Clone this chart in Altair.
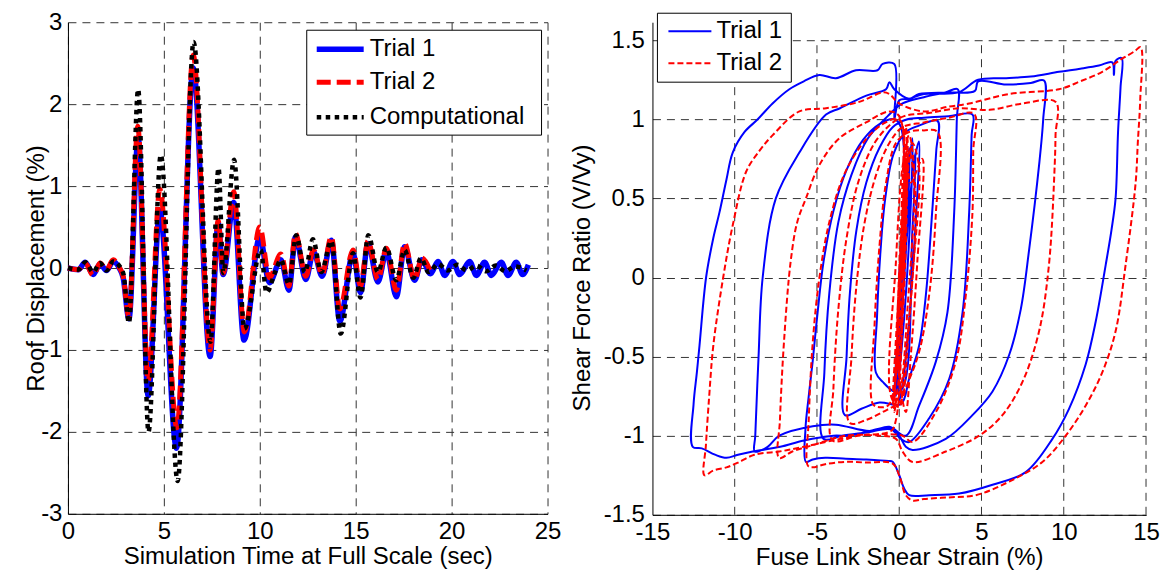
import altair as alt
import pandas as pd

FONT = "Liberation Sans"
BLUE = "#0000ff"
RED = "#ff0000"
BLACK = "#000000"

# ---------------- Left panel: roof displacement time history ----------------
time_ticks = [0, 5, 10, 15, 20, 25]
disp_ticks = [-3, -2, -1, 0, 1, 2, 3]

t_trial1 = [0, 0.54, 0.9, 1.32, 1.67, 2.01, 2.36, 2.67, 2.88, 3.18, 3.66, 4.18, 4.79, 5.66, 6.53,
            7.41, 7.83, 8.09, 8.64, 9.18, 10.0, 10.5, 11.1, 11.52, 11.86, 12.4, 12.8, 13.25, 13.73,
            14.17, 14.86, 15.25, 15.64, 16.16, 16.6, 17.12, 17.55, 18.07, 18.45, 18.9, 19.29, 19.64,
            20.07, 20.42, 20.94, 21.29, 21.72, 22.07, 22.59, 22.94, 23.37, 23.7, 24.0]
d_trial1 = [0, -0.02, 0.07, -0.08, 0.05, -0.03, 0.08, 0.0, -0.12, -0.62, 1.59, -1.56, 0.7, -2.2, 2.44,
            -1.08, 0.55, -0.08, 0.8, -0.88, 0.38, -0.18, 0.1, -0.27, 0.38, -0.14, 0.2, -0.1, 0.34,
            -0.65, 0.18, -0.3, 0.3, -0.17, 0.2, -0.35, 0.26, -0.15, 0.1, -0.07, 0.08, -0.09,
            0.08, -0.08, 0.08, -0.09, 0.07, -0.09, 0.07, -0.09, 0.07, -0.08, 0.04]

t_trial2 = [0, 0.54, 0.9, 1.32, 1.67, 2.01, 2.36, 2.67, 2.88, 3.18, 3.64, 4.18, 4.79, 5.68, 6.53,
            7.41, 7.83, 8.09, 8.64, 9.2, 10.0, 10.5, 11.1, 11.52, 11.86, 12.4, 12.8, 13.25, 13.73,
            14.17, 14.86, 15.25, 15.64, 16.16, 16.6, 17.12, 17.55, 18.07, 18.45, 18.9]
d_trial2 = [0, -0.02, 0.06, -0.09, 0.06, -0.02, 0.1, 0.01, -0.1, -0.6, 1.73, -1.38, 0.96, -1.95, 2.6,
            -1.0, 0.58, -0.06, 0.93, -0.78, 0.5, -0.12, 0.17, -0.22, 0.42, -0.1, 0.22, -0.08, 0.38,
            -0.5, 0.22, -0.22, 0.33, -0.14, 0.24, -0.27, 0.3, -0.14, 0.12, -0.04]

t_comp = [0, 0.54, 0.9, 1.32, 1.67, 2.01, 2.36, 2.67, 2.9, 3.18, 3.66, 4.2, 4.84, 5.72, 6.55,
          7.43, 7.85, 8.1, 8.66, 9.2, 10.05, 10.35, 10.8, 11.1, 11.52, 11.9, 12.35, 12.77, 13.2,
          13.73, 14.22, 14.86, 15.25, 15.66, 16.16, 16.6, 17.12, 17.55, 18.0, 18.4, 18.8, 19.3,
          19.8, 20.3, 20.8, 21.3, 21.8, 22.3, 22.8, 23.3, 23.9]
d_comp = [0, -0.02, 0.07, -0.05, 0.06, -0.03, 0.08, 0.03, -0.08, -0.67, 2.18, -2.0, 1.38, -2.6, 2.76,
          -0.9, 1.22, -0.06, 1.32, -0.74, 0.22, -0.3, -0.05, 0.1, -0.2, 0.4, -0.05, 0.35, -0.05,
          0.33, -0.8, 0.18, -0.36, 0.4, -0.05, 0.25, -0.15, 0.22, -0.12, 0.12, -0.05, 0.05,
          -0.03, 0.04, -0.03, 0.03, -0.04, 0.03, -0.04, 0.02, -0.03]

left_legend_labels = ["Trial 1", "Trial 2", "Computational"]

# ---------------- Right panel: fuse link hysteresis ----------------
strain_ticks = [-15, -10, -5, 0, 5, 10, 15]
force_ticks = [-1.5, -1, -0.5, 0, 0.5, 1, 1.5]
strain_grid = [-10, -5, 0, 5, 10, 15]

s_trial1 = [0.0, 0.3, 0.6, 0.5, 0.0, -0.3, 0.0, 0.5, 0.8, 0.7, 0.1, -0.2, 0.2, 0.9, 1.2, 1.0, 0.3, 0.0, 0.4, 1.0, 0.8, 0.2,
            -0.3, -1.0, -1.42, -1.35, -1.15, -0.85, -0.35, 0.4, 1.2, 2.33, 2.25, 2.0, 1.62, 1.21, 0.6, 0.1,
            -1.2, -2.3, -3.3, -3.2, -3.0, -2.6, -2.0, -1.2, -0.4, 0.5, 1.5, 3.0, 4.45, 4.4, 4.25, 3.85, 3.04, 1.82, 0.6, 0.1,
            -0.5, -2.0, -3.5, -4.6, -4.55, -4.25, -3.7, -2.9, -1.9, -0.7, 0.2, 1.5, 2.8, 3.55, 3.5, 3.34, 2.93, 2.23, 1.21, 0.4,
            -0.6, -1.8, -3.85, -5.26, -7.29, -8.0, -8.78, -8.75, -8.55, -8.3, -7.5, -6.07, -4.45, -3.6, -2.0, -0.8, -0.6, -0.3,
            0.6, 1.2, 3.0, 4.6, 4.8, 6.5, 8.0, 8.8, 8.75, 8.5, 7.9, 7.39, 6.68, 5.67, 4.45, 2.83, 0.81, 0.4, 0.0,
            -0.6, -1.8, -3.0, -4.0, -5.8, -7.23, -8.9, -9.8, -10.5, -11.2, -12.0, -12.55, -12.5, -12.3, -12.14, -11.74,
            -11.3, -10.93, -10.5, -10.12, -9.4, -8.6, -7.7, -6.68, -5.8, -4.86, -3.85, -2.63, -1.32, -1.01, -0.3, -0.3,
            0.0, 0.6, 1.5, 3.6, 4.8, 6.5, 8.0, 9.71, 11.0, 12.14, 12.95, 13.05, 13.15, 13.52,
            13.45, 13.3, 13.15, 12.9, 12.55, 11.94, 11.33, 10.32, 9.31, 7.69, 5.67, 3.64, 1.82, 0.61, 0.3, 0.0, -0.4, -0.65,
            -2.0, -3.24, -4.5, -5.26, -5.67, -5.7, -5.5, -5.26, -4.96, -4.6, -4.0, -3.2, -2.2, -1.2, -0.3, 0.1, 0.3, 0.2]
v_trial1 = [0.0, 0.5, 0.82, 0.35, -0.4, -0.7, -0.25, 0.6, 0.88, 0.45, -0.5, -0.75, -0.1, 0.72, 0.86, 0.35, -0.6, -0.78, 0.2, 0.8, 0.3, -0.7,
            -0.72, -0.66, -0.6, -0.25, 0.15, 0.5, 0.78, 0.92, 0.96, 0.99, 0.8, 0.41, -0.11, -0.43, -0.64, -0.8,
            -0.79, -0.83, -0.87, -0.5, -0.1, 0.3, 0.6, 0.82, 0.95, 1.0, 1.01, 1.02, 1.03, 0.9, 0.41, -0.22, -0.64, -0.89, -1.04, -1.02,
            -0.96, -0.98, -1.0, -1.02, -0.6, -0.1, 0.35, 0.65, 0.88, 1.02, 1.1, 1.14, 1.17, 1.19, 1.0, 0.41, -0.22, -0.53, -0.81, -1.0,
            -0.944, -0.97, -0.93, -0.94, -1.0, -1.07, -1.1, -1.0, -0.5, 0.0, 0.5, 0.79, 1.03, 1.07, 1.15, 1.19, 1.235, 1.19,
            1.13, 1.16, 1.17, 1.18, 1.24, 1.22, 1.23, 1.245, 1.0, 0.71, 0.18, -0.2, -0.49, -0.72, -0.87, -1.02, -1.09, -1.07, -1.0,
            -0.95, -0.97, -1.0, -1.0, -1.03, -1.07, -1.1, -1.12, -1.14, -1.12, -1.08, -1.07, -0.8, -0.6, -0.43, 0.0,
            0.25, 0.41, 0.62, 0.79, 0.92, 1.0, 1.1, 1.19, 1.24, 1.28, 1.26, 1.31, 1.31, 1.35, 1.35, 1.0,
            1.12, 1.13, 1.16, 1.17, 1.25, 1.26, 1.27, 1.30, 1.32, 1.34, 1.36, 1.28, 1.37, 1.387,
            1.2, 0.92, 0.5, 0.3, 0.08, -0.28, -0.55, -0.83, -1.02, -1.23, -1.31, -1.366, -1.376, -1.376, -1.334, -1.25, -1.165, -1.16,
            -1.15, -1.145, -1.14, -1.15, -1.165, -0.96, -0.75, -0.53, -0.22, 0.1, 0.42, 0.68, 0.87, 0.97, 1.0, 0.95, 0.3, -0.2]

s_trial2 = [0.0, 0.2, 0.4, 0.3, -0.1, -0.4, -0.1, 0.3, 0.5, 0.4, 0.0, -0.3, 0.1, 0.6, 0.9, 0.5, 0.1, -0.2, 0.3, 0.8, 1.2,
            0.8, 0.3, 0.0, -0.5, -0.2, 0.2, 0.6, 1.0, 0.6, 0.2, -0.1, 0.1, 0.4, 0.7, 1.4, 1.1, 0.7, 0.4, 0.0, 0.2, 0.5,
            -0.6, -1.2, -1.6, -1.5, -1.2, -0.8, -0.2, 0.6, 1.5, 2.33, 2.23, 1.82, 1.21, 0.4, 0.1,
            -1.0, -2.0, -3.0, -2.9, -2.6, -2.1, -1.4, -0.6, 0.2, 1.5, 3.0, 4.55, 4.5, 4.45, 4.05, 3.44, 2.23, 0.81, 0.2,
            -1.0, -2.5, -4.05, -4.0, -3.7, -3.2, -2.5, -1.5, -0.5, 0.3, 1.8, 3.64, 5.5, 7.5, 9.51, 9.5, 9.45, 9.1, 8.5,
            7.49, 6.27, 4.86, 2.83, 0.81, 0.2, -0.2,
            -1.2, -3.24, -5.26, -6.5, -7.3, -7.25, -7.0, -6.6, -6.2, -5.67, -4.86, -3.64, -2.02, -0.6, 0.0, 0.3, 0.2, -0.2,
            -0.5, -2.5, -4.05, -5.8, -7.3, -8.8, -9.8, -10.5, -11.3, -11.84, -11.75, -11.55, -11.3, -10.7, -10.12, -9.3,
            -8.5, -7.69, -6.07, -4.45, -2.43, -1.01, -0.6, 0.0, 1.5, 3.0, 4.25, 6.68, 9.71, 11.0, 12.34, 13.5, 14.3, 14.67,
            14.65, 14.5, 14.37, 13.76, 13.15, 12.34, 11.33, 10.12, 8.7, 6.68, 4.66, 3.0, 1.5, 0.81, 0.4, 0.0, -0.4, -2.0,
            -3.24, -4.5, -5.26, -5.55, -5.5, -5.25, -4.85, -4.25, -3.35, -2.2, -1.0, 0.0, 0.3, 0.2]
v_trial2 = [0.0, 0.4, 0.75, 0.2, -0.5, -0.8, -0.2, 0.6, 0.88, 0.2, -0.6, -0.85, 0.0, 0.8, 0.6, -0.2, -0.7, -0.8, 0.3, 0.85, 0.7,
            0.0, -0.6, -0.82, -0.75, 0.1, 0.7, 0.9, 0.5, -0.3, -0.75, -0.5, 0.3, 0.95, 0.6, 0.75, 0.1, -0.5, -0.85, -0.6, 0.2, 0.7,
            -0.8, -0.82, -0.8, -0.3, 0.2, 0.6, 0.85, 0.92, 0.93, 0.92, 0.41, -0.11, -0.47, -0.7, -0.78,
            -0.85, -0.9, -0.92, -0.5, -0.05, 0.35, 0.65, 0.85, 0.95, 0.98, 1.01, 1.035, 0.8, 0.41, -0.11, -0.53, -0.85, -1.04, -1.0,
            -0.99, -1.0, -1.03, -0.7, -0.2, 0.25, 0.6, 0.85, 0.97, 1.02, 1.04, 1.07, 1.06, 1.1, 1.11, 0.9, 0.71, 0.08, -0.34,
            -0.66, -0.87, -1.0, -1.1, -1.166, -1.1, -1.02,
            -1.0, -1.0, -1.06, -1.1, -1.14, -0.9, -0.4, 0.1, 0.35, 0.5, 0.71, 0.88, 0.98, 1.05, 1.02, 0.6, -0.2, -0.9,
            -0.97, -1.0, -1.03, -1.07, -1.1, -1.12, -1.17, -1.2, -1.22, -1.25, -1.06, -0.75, -0.43, 0.0, 0.33, 0.67,
            0.8, 0.9, 1.05, 1.07, 1.11, 1.17, 1.16, 1.1, 1.05, 1.08, 1.1, 1.16, 1.19, 1.24, 1.30, 1.38, 1.43, 1.456,
            1.13, 0.85, 0.6, 0.08, -0.34, -0.6, -0.81, -1.0, -1.166, -1.29, -1.376, -1.39, -1.4, -1.41, -1.376, -1.25, -1.176, -1.17,
            -1.165, -1.18, -1.2, -1.19, -0.9, -0.4, 0.0, 0.35, 0.65, 0.85, 0.97, 1.0, 0.5, 0.0]

right_legend_labels = ["Trial 1", "Trial 2"]


def frame(xs, ys):
    return pd.DataFrame({"x": xs, "y": ys, "i": list(range(len(xs)))})


MINUS_FIX = "replace(datum.label, '\u2212', '-')"

# ---------- left panel ----------
lx = alt.X("x:Q", scale=alt.Scale(domain=[0, 25], nice=False, zero=False),
           axis=alt.Axis(values=time_ticks, title="Simulation Time at Full Scale (sec)", labelExpr=MINUS_FIX))
ly = alt.Y("y:Q", scale=alt.Scale(domain=[-3, 3], nice=False, zero=False),
           axis=alt.Axis(values=disp_ticks, title="Roof Displacement (%)", labelExpr=MINUS_FIX,
                         titleX=-31, titleY=246, titleBaseline="middle", titleAlign="center"))
order = alt.Order("i:Q")

blue_l = alt.Chart(frame(t_trial1, d_trial1)).mark_line(
    color=BLUE, strokeWidth=5.5, interpolate="monotone").encode(x=lx, y=ly, order=order)
red_l = alt.Chart(frame(t_trial2, d_trial2)).mark_line(
    color=RED, strokeWidth=5, strokeDash=[14, 6], interpolate="monotone").encode(x=lx, y=ly, order=order)
black_l = alt.Chart(frame(t_comp, d_comp)).mark_line(
    color=BLACK, strokeWidth=4.5, strokeDash=[4.5, 4.5], interpolate="monotone").encode(x=lx, y=ly, order=order)

one = pd.DataFrame({"k": [0]})
lbox = alt.Chart(one).mark_rect(fill="white", stroke="black", strokeWidth=1).encode(
    x=alt.value(239), x2=alt.value(474), y=alt.value(8), y2=alt.value(113))
l_styles = [dict(color=BLUE, strokeWidth=5.5), dict(color=RED, strokeWidth=5, strokeDash=[14, 6]),
            dict(color=BLACK, strokeWidth=4.5, strokeDash=[4.5, 4.5])]
l_rows = [27, 60, 95]
left_leg = [lbox]
for lab, sty, yy in zip(left_legend_labels, l_styles, l_rows):
    left_leg.append(alt.Chart(one).mark_rule(**sty).encode(x=alt.value(249), x2=alt.value(296), y=alt.value(yy)))
    left_leg.append(alt.Chart(pd.DataFrame({"label": [lab]})).mark_text(
        align="left", baseline="middle", font=FONT, fontSize=24, color="black").encode(
        x=alt.value(302), y=alt.value(yy), text="label:N"))

left = alt.layer(blue_l, red_l, black_l, *left_leg).properties(width=480, height=492)

# ---------- right panel ----------
rx = alt.X("x:Q", scale=alt.Scale(domain=[-15, 15], nice=False, zero=False),
           axis=alt.Axis(values=strain_ticks, title="Fuse Link Shear Strain (%)", grid=False, labelExpr=MINUS_FIX))
ry = alt.Y("y:Q", scale=alt.Scale(domain=[-1.5, 1.6137], nice=False, zero=False),
           axis=alt.Axis(values=force_ticks, format="~g", title="Shear Force Ratio (V/Vy)", labelExpr=MINUS_FIX,
                         labelPadding=8,
                         titleX=-70, titleY=255.5, titleBaseline="middle", titleAlign="center"))

grid_df = pd.DataFrame({"x": strain_grid, "y": [-1.5] * len(strain_grid), "y2": [1.5] * len(strain_grid)})
vgrid = alt.Chart(grid_df).mark_rule(color="#333333", strokeWidth=1, strokeDash=[8, 6]).encode(
    x=rx, y=ry, y2="y2:Q")
blue_r = alt.Chart(frame(s_trial1, v_trial1)).mark_line(
    color=BLUE, strokeWidth=2, interpolate="catmull-rom").encode(x=rx, y=ry, order=order)
red_r = alt.Chart(frame(s_trial2, v_trial2)).mark_line(
    color=RED, strokeWidth=2, strokeDash=[6, 3], interpolate="catmull-rom").encode(x=rx, y=ry, order=order)

rbox = alt.Chart(one).mark_rect(fill="white", stroke="black", strokeWidth=1).encode(
    x=alt.value(5), x2=alt.value(139), y=alt.value(-9), y2=alt.value(60))
r_styles = [dict(color=BLUE, strokeWidth=2), dict(color=RED, strokeWidth=2, strokeDash=[6, 3])]
r_rows = [9, 41]
right_leg = [rbox]
for lab, sty, yy in zip(right_legend_labels, r_styles, r_rows):
    right_leg.append(alt.Chart(one).mark_rule(**sty).encode(x=alt.value(16), x2=alt.value(59), y=alt.value(yy)))
    right_leg.append(alt.Chart(pd.DataFrame({"label": [lab]})).mark_text(
        align="left", baseline="middle", font=FONT, fontSize=24, color="black").encode(
        x=alt.value(64), y=alt.value(yy), text="label:N"))

right = alt.layer(vgrid, blue_r, red_r, *right_leg).properties(width=494, height=493)

chart = alt.hconcat(left, right, spacing=105, bounds="flush").properties(
    padding={"left": 25, "top": 10, "right": 5, "bottom": 2}
).configure_view(strokeWidth=0).configure_axis(
    labelFont=FONT, labelFontSize=24, labelColor="black", labelFlush=False,
    titleFont=FONT, titleFontSize=24, titleFontWeight="normal", titleColor="black",
    domainColor="black", domainWidth=1, ticks=False,
    grid=True, gridColor="#333333", gridDash=[8, 6], gridWidth=1, gridOpacity=1,
).configure_axisX(labelPadding=6, titlePadding=1).configure_axisY(labelPadding=6)

chart.save("out.html", embed_options={"renderer": "svg", "actions": False})
